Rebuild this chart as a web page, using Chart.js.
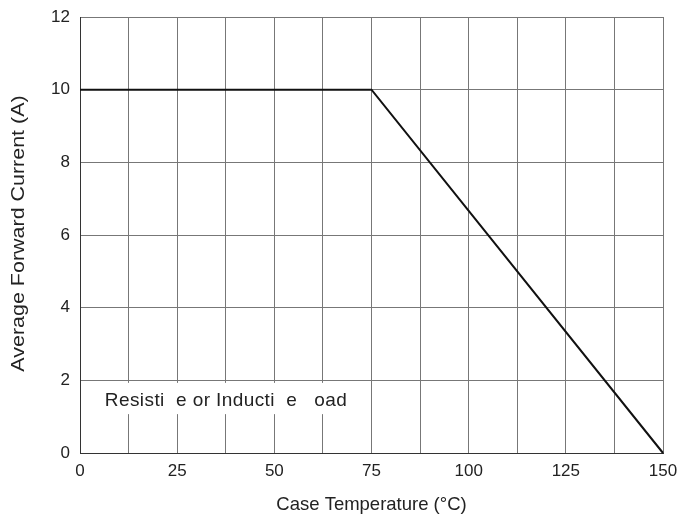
<!DOCTYPE html>
<html>
<head>
<meta charset="utf-8">
<script src="https://cdn.jsdelivr.net/npm/chart.js@4/dist/chart.umd.min.js"></script>
<style>
  html, body { margin: 0; padding: 0; background: #fff; }
  #wrap { width: 682px; height: 516px; }
</style>
</head>
<body>
<div id="wrap"><canvas id="derating"></canvas></div>
<script>
// data
const caseTemp = [0, 75, 150];
const avgCurrent = [10, 10, 0];
const xTickValues = [0, 25, 50, 75, 100, 125, 150];
const yTickValues = [0, 2, 4, 6, 8, 10, 12];
const noteText = "Resisti  e or Inducti  e   oad";
const yTitle = "Average Forward Current (A)";

const FONT = "'Liberation Sans', Arial, sans-serif";

// white box with the load note, plus the (slightly stretched) y title
const notePlugin = {
    id: "noteBox",
    afterDatasetsDraw(chart) {
        const ctx = chart.ctx;
        const xs = chart.scales.x;
        const ys = chart.scales.y;
        const left = xs.getPixelForValue(3.9);
        const right = xs.getPixelForValue(72);
        const top = ys.getPixelForValue(1.93);
        const bottom = ys.getPixelForValue(1.07);
        ctx.save();
        ctx.fillStyle = "#fff";
        ctx.fillRect(left, top, right - left, bottom - top);
        ctx.fillStyle = "#222";
        ctx.font = "19px " + FONT;
        ctx.letterSpacing = "0.4px";
        ctx.textBaseline = "alphabetic";
        ctx.textAlign = "left";
        ctx.fillText(noteText, xs.getPixelForValue(6.4), ys.getPixelForValue(1.3));
        ctx.restore();
    },
    afterDraw(chart) {
        const ctx = chart.ctx;
        const ys = chart.scales.y;
        ctx.save();
        ctx.translate(18.5, (ys.top + ys.bottom) / 2 - 1.5);
        ctx.rotate(-Math.PI / 2);
        ctx.scale(1.16, 1);
        ctx.fillStyle = "#222";
        ctx.font = "18.5px " + FONT;
        ctx.textAlign = "center";
        ctx.textBaseline = "middle";
        ctx.fillText(yTitle, 0, 0);
        ctx.restore();
    }
};

const points = caseTemp.map((t, i) => ({ x: t, y: avgCurrent[i] }));

new Chart(document.getElementById("derating"), {
    type: "line",
    data: {
        datasets: [{
            data: points,
            borderColor: "#111",
            borderWidth: 2,
            pointRadius: 0,
            tension: 0,
            clip: false
        }]
    },
    options: {
        responsive: true,
        maintainAspectRatio: false,
        animation: false,
        layout: { padding: { left: 0, right: 19, top: 17, bottom: 0 } },
        plugins: {
            legend: { display: false },
            tooltip: { enabled: false }
        },
        scales: {
            x: {
                type: "linear",
                min: 0,
                max: 150,
                afterFit: (s) => {
                    s.height = 63;
                    s.paddingLeft = 0;
                    s.paddingRight = 0;
                },
                afterBuildTicks: (s) => {
                    const t = [];
                    for (let v = 0; v <= 150; v += 12.5) t.push({ value: v });
                    s.ticks = t;
                },
                ticks: {
                    autoSkip: false,
                    maxRotation: 0,
                    color: "#222",
                    padding: 8,
                    font: { size: 17, family: FONT },
                    callback: (v) => xTickValues.includes(v) ? String(v) : ""
                },
                grid: { color: "#777", lineWidth: 1, drawTicks: false },
                border: { color: "#333", width: 1 },
                title: {
                    display: true,
                    text: "Case Temperature (°C)",
                    color: "#222",
                    padding: { top: 6, bottom: 0 },
                    font: { size: 18.5, family: FONT }
                }
            },
            y: {
                min: 0,
                max: 12,
                afterFit: (s) => {
                    s.width = 80;
                    s.paddingTop = 0;
                    s.paddingBottom = 0;
                },
                afterBuildTicks: (s) => {
                    s.ticks = yTickValues.map(v => ({ value: v }));
                },
                ticks: {
                    color: "#222",
                    padding: 10,
                    font: { size: 17, family: FONT }
                },
                grid: { color: "#777", lineWidth: 1, drawTicks: false },
                border: { color: "#333", width: 1 }
            }
        }
    },
    plugins: [notePlugin]
});
</script>
</body>
</html>
